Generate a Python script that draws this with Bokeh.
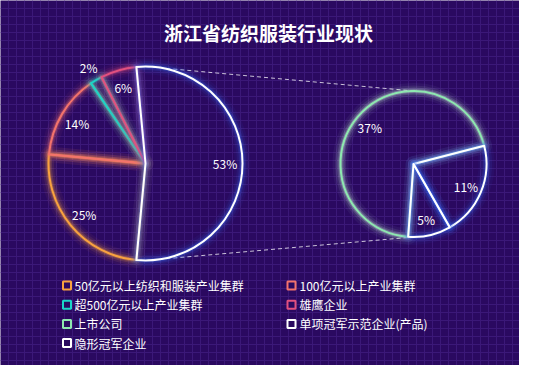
import numpy as np
from bokeh.plotting import figure
from bokeh.models import Range1d, FixedTicker, Grid
from bokeh.core.properties import value
from bokeh.embed import file_html
from bokeh.resources import INLINE

# ---------------- data ----------------
title_text = "浙江省纺织服装行业现状"
outer_names = ["50亿元以上纺织和服装产业集群", "100亿元以上产业集群", "超500亿元以上产业集群", "雄鹰企业"]
outer_values = [25, 14, 2, 6]
inner_names = ["上市公司", "单项冠军示范企业(产品)", "隐形冠军企业"]
inner_values = [37, 11, 5]

# ---------------- styling ----------------
BG = "#2a0960"
GRID = "#3b1878"
FONT = "Noto Sans CJK SC"
outer_colors = ["#f9a23f", "#f3736c", "#1ad6c8", "#e2507f"]
outer_glow = ["#f9a23f", "#f3736c", "#1ad6c8", "#e2507f"]
rest_color, rest_glow = "#ffffff", "#3a6cf4"
inner_colors = ["#8ee8b0", "#ffffff", "#ffffff"]
inner_glow = ["#c8f0d8", "#3a6cf4", "#3a6cf4"]

W, H = 519, 365
TOP = 381
def sy(Y):               # screen Y -> data y
    return TOP - Y

p = figure(width=W, height=H, x_range=Range1d(0, W), y_range=Range1d(TOP - H, TOP),
           output_backend="svg", toolbar_location=None, min_border=0,
           x_axis_location=None, y_axis_location=None)
p.grid.visible = False
p.background_fill_color = BG
p.border_fill_color = BG
p.outline_line_color = None

# background grid pattern
p.add_layout(Grid(dimension=0, ticker=FixedTicker(ticks=list(np.arange(7.5, 540, 8))),
                  grid_line_color=GRID, grid_line_width=1), "center")
p.add_layout(Grid(dimension=1, ticker=FixedTicker(ticks=list(TOP - np.arange(7.5, 390, 8))),
                  grid_line_color=GRID, grid_line_width=1), "center")

# ---------------- pies ----------------
LCX, LCY, LR = 145, sy(163), 97
RCX, RCY, RR = 413, sy(163.5), 73

rest_value = sum(inner_values)
left_vals = outer_values + [rest_value]
left_cols = outer_colors + [rest_color]
left_glows = outer_glow + [rest_glow]
left_total = sum(left_vals)
left_start = -rest_value / left_total * 180.0   # rest slice centred at 0 deg

right_total = sum(inner_values)
right_start = 265.8

glow_layers = [(16, 0.05), (11, 0.09), (7, 0.16), (4, 0.28)]


def draw_pie(cx, cy, r, vals, total, start, cols, glows, lab_frac):
    a = start
    labels = []
    for v, c, g in zip(vals, cols, glows):
        sweep = v / total * 360.0
        s, e = a - sweep, a
        for lw, al in glow_layers:
            p.wedge(x=[cx], y=[cy], radius=[r], start_angle=[s], end_angle=[e],
                    start_angle_units="deg", end_angle_units="deg",
                    fill_color=None, line_color=g, line_alpha=al, line_width=lw, line_join="round")
        p.wedge(x=[cx], y=[cy], radius=[r], start_angle=[s], end_angle=[e],
                start_angle_units="deg", end_angle_units="deg",
                fill_color=None, line_color=c, line_width=2, line_join="round")
        mid = np.radians((s + e) / 2)
        rf = lab_frac if sweep > 12 else 1.15
        labels.append((cx + r * rf * np.cos(mid), cy + r * rf * np.sin(mid), f"{v}%"))
        a -= sweep
    p.text(x=[l[0] for l in labels], y=[l[1] for l in labels], text=[l[2] for l in labels],
           text_color="white", text_font=value(FONT), text_font_size="12px",
           text_align="center", text_baseline="middle")


# connector lines (behind pies)
p.segment(x0=[LCX, LCX], y0=[LCY + LR, LCY - LR], x1=[RCX, RCX], y1=[RCY + RR, RCY - RR],
          line_color="white", line_alpha=0.75, line_width=1, line_dash="4 3")

draw_pie(LCX, LCY, LR, left_vals, left_total, left_start, left_cols, left_glows, 0.82)
draw_pie(RCX, RCY, RR, inner_values, right_total, right_start, inner_colors, inner_glow, 0.78)

# ---------------- title ----------------
p.text(x=[268], y=[sy(32)], text=[title_text], text_color="white", text_font=value(FONT),
       text_font_size="19px", text_font_style="bold", text_align="center", text_baseline="middle")

# ---------------- legend ----------------
leg_names = outer_names + inner_names
leg_cols = outer_colors + inner_colors
icon_x = [66.5, 291]
text_x = [74, 299]
ix, iy, tx = [], [], []
for i in range(len(leg_names)):
    col, row = i % 2, i // 2
    ix.append(icon_x[col])
    tx.append(text_x[col])
    iy.append(sy(285 + 19.2 * row))
p.rect(x=ix, y=iy, width=8, height=8, fill_color=BG, line_color=leg_cols, line_width=2)
p.text(x=tx, y=iy, text=leg_names, text_color="white", text_font=value(FONT),
       text_font_size="12px", text_align="left", text_baseline="middle")

open("out.html", "w").write(file_html(p, INLINE))
